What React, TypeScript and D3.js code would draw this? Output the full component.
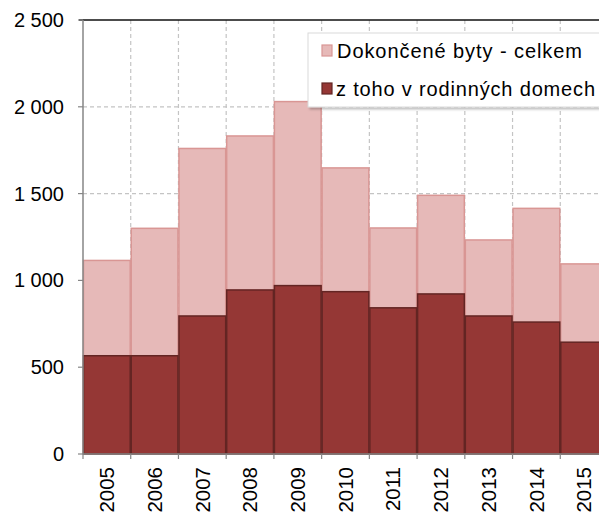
import React from "react";
import * as d3 from "d3";

const years = ["2005","2006","2007","2008","2009","2010","2011","2012","2013","2014","2015"];
const totalFlats = [1115, 1300, 1760, 1832, 2030, 1648, 1302, 1490, 1233, 1415, 1095];
const familyHouses = [566, 566, 795, 945, 970, 935, 842, 922, 795, 760, 644];
const yTicks = [0, 500, 1000, 1500, 2000, 2500];
const legendLabels = ["Dokončené byty - celkem", "z toho v rodinných domech"];

const W = 599, H = 515;
const left = 83, right = 608, top = 20, bottom = 454;

export default function App() {
  const x = d3.scaleBand<string>().domain(years).range([left, right]).padding(0);
  const y = d3.scaleLinear().domain([0, 2500]).range([bottom, top]);
  const bw = x.bandwidth();
  const fmt = (v: number) => d3.format(",")(v).replace(/,/g, " ");
  const font = "'Liberation Sans', Arial, sans-serif";
  const boundaries = years.map((yr) => x(yr)!).concat([right]);

  return (
    <svg width={W} height={H} style={{ position: "absolute", left: 0, top: 0, background: "#fff" }} fontFamily={font}>
      <defs>
        <filter id="sh" x="-10%" y="-10%" width="130%" height="140%">
          <feDropShadow dx="2" dy="2" stdDeviation="1.2" floodColor="#000" floodOpacity="0.25" />
        </filter>
      </defs>
      {/* gridlines */}
      {yTicks.filter((t) => t > 0 && t < 2500).map((t) => (
        <line key={"h" + t} x1={left} x2={right} y1={y(t)} y2={y(t)} stroke="#c4c4c4" strokeWidth={1.2} strokeDasharray="4,3" />
      ))}
      {boundaries.slice(1).map((b, i) => (
        <line key={"v" + i} x1={b} x2={b} y1={top} y2={bottom} stroke="#c4c4c4" strokeWidth={1.2} strokeDasharray="4,3" />
      ))}
      {/* total bars */}
      {years.map((yr, i) => (
        <rect key={"t" + yr} x={x(yr)! + 0.5} y={y(totalFlats[i])} width={bw - 1} height={bottom - y(totalFlats[i])}
          fill="#e6b9b8" stroke="#d99694" strokeWidth={1.5} />
      ))}
      {/* family house bars */}
      {years.map((yr, i) => (
        <rect key={"f" + yr} x={x(yr)! + 0.5} y={y(familyHouses[i])} width={bw - 1} height={bottom - y(familyHouses[i])}
          fill="#953735" stroke="#632523" strokeWidth={1.5} />
      ))}
      {/* top border */}
      <line x1={left - 4} x2={right} y1={top} y2={top} stroke="#111" strokeWidth={1.6} />
      {/* y axis */}
      <line x1={left} x2={left} y1={top} y2={bottom} stroke="#868686" strokeWidth={1.5} />
      {yTicks.map((t) => (
        <g key={"yt" + t}>
          <line x1={left - 5} x2={left} y1={y(t)} y2={y(t)} stroke="#868686" strokeWidth={1.2} />
          <text x={64} y={y(t)} dy="0.35em" textAnchor="end" fontSize={20} fill="#000">{fmt(t)}</text>
        </g>
      ))}
      {/* x axis */}
      <line x1={left} x2={right} y1={bottom} y2={bottom} stroke="#868686" strokeWidth={1.5} />
      {boundaries.map((b, i) => (
        <line key={"xt" + i} x1={b} x2={b} y1={bottom} y2={bottom + 5} stroke="#868686" strokeWidth={1.2} />
      ))}
      {years.map((yr) => (
        <text key={"xl" + yr} transform={`translate(${x(yr)! + bw / 2},${467}) rotate(-90)`} textAnchor="end" dy="0.35em" fontSize={20.5} fill="#000">{yr}</text>
      ))}
      {/* legend */}
      <g>
        <rect x={308} y={33} width={300} height={74} fill="#fff" stroke="#d9d9d9" strokeWidth={1} filter="url(#sh)" />
        <rect x={322} y={45} width={10} height={11} fill="#e6b9b8" stroke="#d99694" strokeWidth={1.2} />
        <text x={337} y={51} dy="0.35em" fontSize={20} fill="#000" textLength={245} lengthAdjust="spacing">{legendLabels[0]}</text>
        <rect x={322} y={83} width={10} height={11} fill="#953735" stroke="#632523" strokeWidth={1.2} />
        <text x={336} y={89} dy="0.35em" fontSize={20} fill="#000" textLength={259} lengthAdjust="spacing">{legendLabels[1]}</text>
      </g>
    </svg>
  );
}
